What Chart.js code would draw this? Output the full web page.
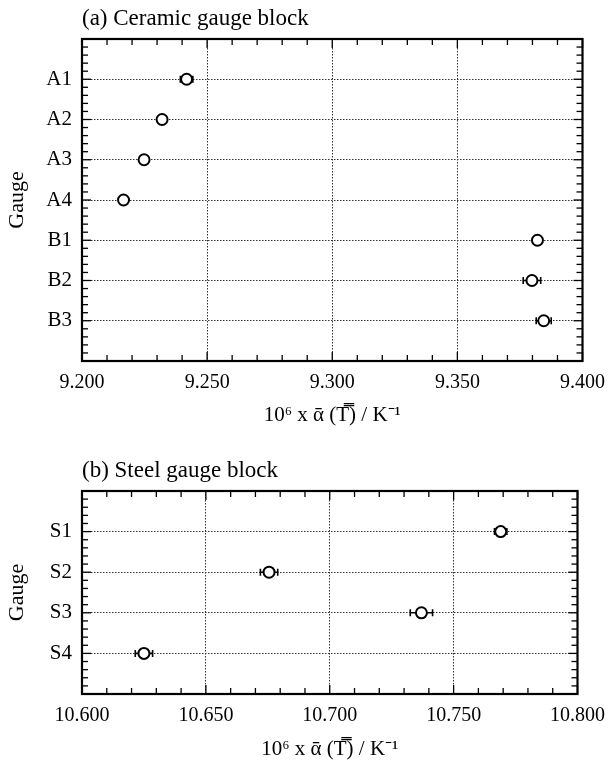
<!DOCTYPE html>
<html>
<head>
<meta charset="utf-8">
<script src="https://cdn.jsdelivr.net/npm/chart.js@4.4.1/dist/chart.umd.min.js"></script>
<style>
  body { margin: 0; background: #fff; }
  .panel { position: absolute; left: 0; width: 615px; }
</style>
</head>
<body>
<div class="panel" style="top:0;height:440px"><canvas id="ceramic"></canvas></div>
<div class="panel" style="top:450px;height:324px"><canvas id="steel"></canvas></div>
<script>
// (a) ceramic gauge blocks
const ceramicGauges = ['A1', 'A2', 'A3', 'A4', 'B1', 'B2', 'B3'];
const ceramicAlpha = [9.2418, 9.2320, 9.2248, 9.2166, 9.3820, 9.3798, 9.3845];
const ceramicErr = [0.0025, 0.0010, 0.0008, 0.0008, 0.0010, 0.0035, 0.0030];
const ceramicTicks = [9.200, 9.250, 9.300, 9.350, 9.400];

// (b) steel gauge blocks
const steelGauges = ['S1', 'S2', 'S3', 'S4'];
const steelAlpha = [10.7690, 10.6755, 10.7370, 10.6250];
const steelErr = [0.0025, 0.0035, 0.0045, 0.0035];
const steelTicks = [10.600, 10.650, 10.700, 10.750, 10.800];

const axisTitle = '10\u2076 x \u1FB1 (T\u033F) / K\u207B\u00B9';
const FONT = 'Liberation Serif';

// frame, inward major/minor ticks and the panel caption
const framePlugin = {
  id: 'frame',
  afterDraw(chart) {
    const { ctx, chartArea: a, scales: { x, y } } = chart;
    const line = (x1, y1, x2, y2) => { ctx.beginPath(); ctx.moveTo(x1, y1); ctx.lineTo(x2, y2); ctx.stroke(); };
    ctx.save();
    ctx.strokeStyle = '#000';
    ctx.lineWidth = 1.3;
    const nx = Math.round((x.max - x.min) / 0.01);
    for (let i = 0; i <= nx; i++) {
      const px = x.getPixelForValue(x.min + i * 0.01);
      const len = i % 5 === 0 ? 9 : 6;
      line(px, a.top, px, a.top + len);
      line(px, a.bottom, px, a.bottom - len);
    }
    const ny = Math.round((y.max - y.min) / 0.2);
    for (let i = 0; i <= ny; i++) {
      const py = y.getPixelForValue(y.min + i * 0.2);
      const len = i % 5 === 0 ? 9 : 6;
      line(a.left, py, a.left + len, py);
      line(a.right, py, a.right - len, py);
    }
    ctx.lineWidth = 2.2;
    ctx.strokeRect(a.left, a.top, a.right - a.left, a.bottom - a.top);
    ctx.fillStyle = '#000';
    ctx.font = '23px "' + FONT + '"';
    ctx.textBaseline = 'alphabetic';
    ctx.fillText(chart.options.plugins.frame.caption, a.left, a.top - 14);
    ctx.restore();
  }
};

// horizontal uncertainty bars
const errorBarPlugin = {
  id: 'errorBars',
  beforeDatasetsDraw(chart) {
    const { ctx, scales: { x, y } } = chart;
    const { values, errors } = chart.options.plugins.errorBars;
    ctx.save();
    ctx.strokeStyle = '#000';
    ctx.lineWidth = 1.6;
    values.forEach((v, i) => {
      const py = y.getPixelForValue(i);
      const x1 = x.getPixelForValue(v - errors[i]);
      const x2 = x.getPixelForValue(v + errors[i]);
      ctx.beginPath();
      ctx.moveTo(x1, py); ctx.lineTo(x2, py);
      ctx.moveTo(x1, py - 3.5); ctx.lineTo(x1, py + 3.5);
      ctx.moveTo(x2, py - 3.5); ctx.lineTo(x2, py + 3.5);
      ctx.stroke();
    });
    ctx.restore();
  }
};

function makePanel(id, caption, gauges, values, errors, ticks, padTop, axisHeight) {
  const xMin = ticks[0];
  const xMax = ticks[ticks.length - 1];
  return new Chart(document.getElementById(id), {
    type: 'scatter',
    data: {
      datasets: [{
        data: values.map((v, i) => ({ x: v, y: i })),
        pointRadius: 5.5,
        pointHoverRadius: 5.5,
        pointBackgroundColor: '#fff',
        pointBorderColor: '#000',
        pointBorderWidth: 2
      }]
    },
    options: {
      responsive: true,
      maintainAspectRatio: false,
      animation: false,
      layout: { padding: { top: padTop, right: 29, left: 0, bottom: 0 } },
      plugins: {
        legend: { display: false },
        tooltip: { enabled: false },
        frame: { caption: caption },
        errorBars: { values: values, errors: errors }
      },
      scales: {
        x: {
          type: 'linear',
          min: xMin,
          max: xMax,
          afterFit: s => { s.height = axisHeight; },
          afterBuildTicks: s => { s.ticks = ticks.map(v => ({ value: v })); },
          ticks: {
            color: '#000',
            padding: 10,
            font: { family: FONT, size: 20 },
            callback: v => v.toFixed(3)
          },
          grid: { color: '#333', lineWidth: 1, drawTicks: false },
          border: { display: false, dash: [1.5, 1.5] },
          title: {
            display: true,
            text: axisTitle,
            color: '#000',
            font: { family: FONT, size: 21 },
            padding: { top: 0, bottom: 12 }
          }
        },
        y: {
          type: 'linear',
          reverse: true,
          min: -1,
          max: gauges.length,
          afterFit: s => { s.width = 82; },
          ticks: {
            stepSize: 1,
            color: '#000',
            padding: 10,
            font: { family: FONT, size: 21 },
            callback: v => gauges[v] || ''
          },
          grid: { color: '#333', lineWidth: 1, drawTicks: false },
          border: { display: false, dash: [1.5, 1.5] },
          title: {
            display: true,
            text: 'Gauge',
            color: '#000',
            font: { family: FONT, size: 22 },
            padding: { top: 4, bottom: 0 }
          }
        }
      }
    },
    plugins: [errorBarPlugin, framePlugin]
  });
}

makePanel('ceramic', '(a) Ceramic gauge block', ceramicGauges, ceramicAlpha, ceramicErr, ceramicTicks, 39, 79);
makePanel('steel', '(b) Steel gauge block', steelGauges, steelAlpha, steelErr, steelTicks, 41, 80);
</script>
</body>
</html>
